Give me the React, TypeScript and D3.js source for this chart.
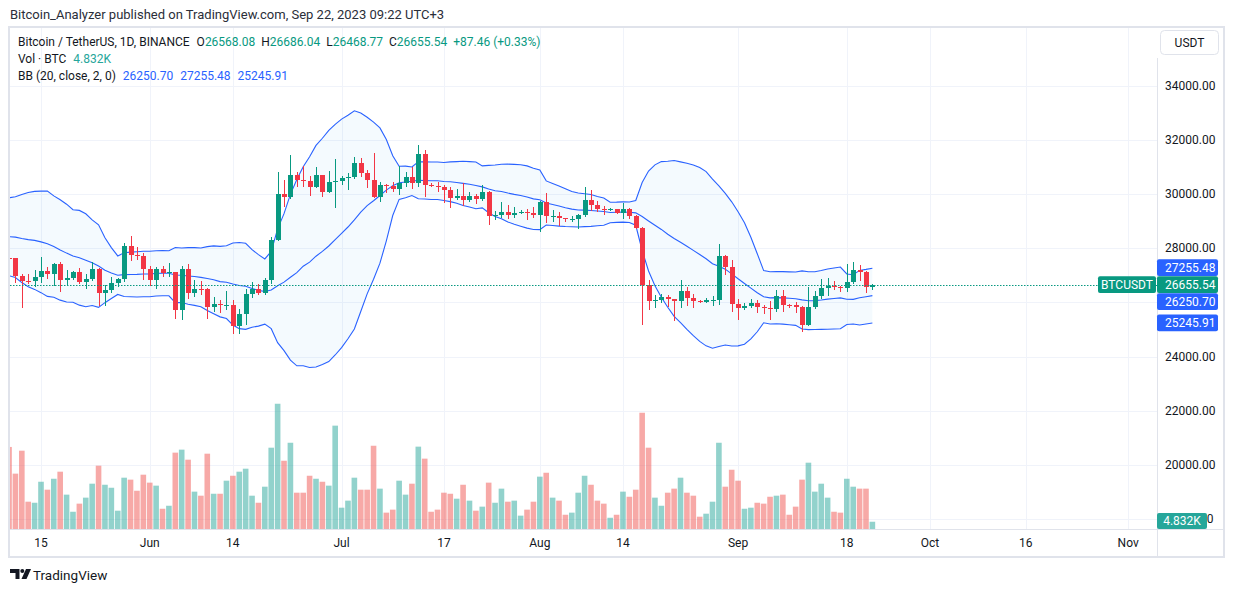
import React from "react";
import * as d3 from "d3";

// ---------- DATA (BTC/USDT, 1D, Binance) ----------
const START_DATE = "2023-05-10";

const opens = [
  27654, 27621, 26988, 26808, 26785, 26931, 27172, 27033, 27405, 26822, 26891, 27112, 26748, 26847, 27226, 26330, 26475, 26720, 26868, 28085, 27745, 27702,
  27219, 26819, 27249, 27069, 27116, 25728, 27230, 26339, 26498, 26477, 25841, 25925, 25901, 25902, 25127, 25575, 26327, 26511, 26337, 26845, 28308, 29994, 29885, 30688, 30528, 30462, 30267, 30693, 30078, 30446,
  30472, 30585, 30617, 31156, 30767, 30505, 29895, 30347, 30292, 30171, 30414, 30620, 30391, 31476, 30334, 30295, 30249, 30145, 29856, 29913, 29793, 29908, 29800, 30083, 29176, 29228, 29354, 29211, 29314, 29352, 29281,
  29232, 29705, 29186, 29193, 29114, 29072, 29088, 29211, 29770, 29582, 29452, 29430, 29434, 29303, 29430, 29200, 28730, 26624, 26050, 26100, 26189, 26125, 26056, 26432, 26163, 26048, 26009, 26090, 26106, 27728, 27299,
  25941, 25800, 25869, 25970, 25812, 25780, 25754, 26240, 25906, 25896, 25833, 25163, 25841, 26228, 26540, 26608, 26568, 26527, 26763, 27211, 27132, 26568.08,
];

const highs = [
  28322, 27636, 27055, 27030, 27200, 27665, 27299, 27465, 27485, 27183, 27155, 27279, 27058, 27495, 27260, 26631, 26932, 26895, 28200, 28448, 28048, 27834,
  27350, 27300, 27339, 27455, 27130, 27355, 27400, 26810, 26783, 26533, 26210, 26090, 26433, 26074, 25750, 26478, 26769, 26679, 26889, 28403, 30800, 30500, 31432, 30800, 31046, 30650, 31008, 30703, 30840, 31282,
  30661, 30792, 31381, 31326, 30878, 31500, 30449, 30385, 30445, 31045, 30800, 30983, 31814, 31630, 30390, 30440, 30336, 30244, 30188, 30417, 30056, 29990, 30350, 30099, 29376, 29690, 29580, 29530, 29415, 29449, 29530,
  29744, 30047, 29409, 29333, 29115, 29176, 29265, 30244, 30133, 29738, 29541, 29474, 29450, 29686, 29474, 29222, 28781, 26834, 26288, 26299, 26258, 26139, 26814, 26577, 26314, 26107, 26180, 26224, 28142, 27760, 27575,
  26125, 25977, 26125, 26100, 25915, 26046, 26470, 26445, 25948, 26000, 25876, 26564, 26417, 26860, 26888, 26777, 26620, 27409, 27488, 27378, 27160, 26686.04,
];

const lows = [
  26777, 26700, 25811, 26695, 26582, 26721, 26864, 26600, 26367, 26628, 26812, 26665, 26500, 26800, 25871, 25852, 26334, 26557, 26765, 27524, 27560, 26815,
  26605, 26508, 26923, 26951, 25388, 25333, 26121, 26207, 26269, 25400, 25634, 25602, 25712, 24840, 24830, 25160, 26180, 26290, 26256, 26668, 28257, 29525, 29811, 30251, 30270, 29934, 30236, 29895, 30033, 29500,
  30320, 30155, 30570, 30634, 30206, 29850, 29702, 30045, 30070, 29950, 30263, 30200, 30245, 29900, 30254, 30090, 29659, 29500, 29764, 29562, 29719, 29640, 29730, 28861, 29047, 29096, 29069, 29101, 29257, 29033, 29101,
  28585, 28942, 28959, 28806, 28953, 28985, 28701, 29145, 29355, 29320, 29238, 29355, 29250, 29070, 29063, 28701, 25166, 25728, 25800, 25971, 25812, 25300, 25798, 25864, 25777, 25964, 25985, 25860, 25922, 27025, 25655,
  25333, 25717, 25777, 25600, 25566, 25346, 25630, 25645, 25810, 25600, 24901, 25132, 25764, 26128, 26225, 26474, 26402, 26385, 26674, 26800, 26350, 26468.77,
];

const closes = [
  27621, 26988, 26808, 26785, 26931, 27172, 27033, 27405, 26822, 26891, 27112, 26748, 26847, 27226, 26330, 26475, 26720, 26868, 28085, 27745, 27702, 27219,
  26819, 27249, 27069, 27116, 25728, 27230, 26339, 26498, 26477, 25841, 25925, 25901, 25902, 25127, 25575, 26327, 26511, 26337, 26845, 28308, 29994, 29885, 30688, 30528, 30462, 30267, 30693, 30078, 30446, 30472,
  30585, 30617, 31156, 30767, 30505, 29895, 30347, 30292, 30171, 30414, 30620, 30391, 31476, 30334, 30295, 30249, 30145, 29856, 29913, 29793, 29908, 29800, 30083, 29176, 29228, 29354, 29211, 29314, 29352, 29281, 29232,
  29705, 29186, 29193, 29114, 29072, 29088, 29211, 29770, 29582, 29452, 29430, 29434, 29303, 29430, 29200, 28730, 26624, 26050, 26100, 26189, 26125, 26056, 26432, 26163, 26048, 26009, 26090, 26106, 27728, 27299, 25941,
  25800, 25869, 25970, 25812, 25780, 25754, 26240, 25906, 25896, 25833, 25163, 25841, 26228, 26540, 26608, 26568, 26527, 26763, 27211, 27132, 26568.08, 26655.54,
];

// Volume in thousands of BTC
const volumes = [
  54.7, 36.9, 52.2, 18.2, 17.5, 31.5, 26.2, 33.5, 38.2, 22.9, 11.5, 16.9, 20.9, 30.2, 42.2, 29.5, 27.5, 12.2, 34.2, 32.9, 25.5, 36.2,
  30.9, 28.9, 13.5, 15.5, 50.9, 52.9, 46.2, 24.9, 22.2, 50.2, 23.5, 23.5, 32.2, 35.5, 38.2, 40.2, 22.2, 17.5, 28.2, 54.2, 83.5, 45.5, 57.5, 24.2, 24.2, 35.5, 33.5, 31.5, 28.9, 68.9,
  14.2, 18.9, 34.2, 26.2, 26.2, 55.5, 26.9, 10.9, 12.9, 32.2, 22.9, 30.2, 54.9, 46.9, 11.5, 12.9, 24.2, 23.5, 20.2, 29.5, 18.9, 12.2, 14.9, 30.9, 17.5, 26.9, 18.2, 18.9, 8.9, 12.9, 18.2,
  34.9, 37.5, 20.9, 18.9, 9.5, 10.9, 24.2, 35.5, 29.5, 18.9, 16.9, 7.5, 9.5, 24.9, 21.5, 26.2, 77.5, 54.2, 20.9, 15.5, 24.2, 26.9, 34.2, 24.2, 22.2, 8.2, 10.2, 18.2, 57.5, 28.2, 39.5,
  32.2, 13.5, 14.2, 17.5, 16.9, 21.5, 22.2, 22.9, 9.5, 14.9, 32.9, 44.2, 24.9, 30.2, 20.9, 11.5, 10.9, 33.5, 28.2, 26.9, 26.9, 4.832,
];

// closes of the 19 days before the first visible candle (Bollinger warm-up)
const priorCloses = [
  27262, 27818, 27591, 27515, 28300, 28415, 29472, 29311, 29230, 29233, 28068, 28669, 29026, 28838, 29506, 28848, 28430, 27668, 27628,
];

const priceTicks = [34000, 32000, 30000, 28000, 26000, 24000, 22000, 20000, 18000];
const timeTickDates = [
  "2023-05-15", "2023-06-01", "2023-06-14", "2023-07-01", "2023-07-17", "2023-08-01",
  "2023-08-14", "2023-09-01", "2023-09-18", "2023-10-01", "2023-10-16", "2023-11-01",
];
const timeTickLabels = ["15", "Jun", "14", "Jul", "17", "Aug", "14", "Sep", "18", "Oct", "16", "Nov"];

const headerText = "Bitcoin_Analyzer published on TradingView.com, Sep 22, 2023 09:22 UTC+3";
const symbolText = "Bitcoin / TetherUS, 1D, BINANCE";
const ohlcLabels = ["O", "H", "L", "C"];
const ohlcValues = ["26568.08", "26686.04", "26468.77", "26655.54"];
const changeText = "+87.46 (+0.33%)";
const volText = "Vol · BTC";
const volValueText = "4.832K";
const bbText = "BB (20, close, 2, 0)";
const bbValues = [26250.7, 27255.48, 25245.91]; // basis, upper, lower

// ---------- LAYOUT / STYLE ----------
const W = 1233;
const H = 592;
const PL = 10;
const PR = 1157;
const PT = 28;
const PB = 529;
const UP = "#089981";
const DOWN = "#F23645";
const VOL_UP = "rgba(38,166,154,0.5)";
const VOL_DOWN = "rgba(239,83,80,0.5)";
const BB = "#2962FF";
const TXT = "#131722";
const GRID = "#f0f3fa";
const BORDER = "#e0e3eb";
const FONT = "'Trebuchet MS', Roboto, 'Noto Sans', sans-serif";

export default function App() {
  const DAY = 86400000;
  const t0 = Date.parse(START_DATE + "T00:00:00Z");
  const data = closes.map((c, i) => ({
    date: new Date(t0 + i * DAY),
    o: opens[i],
    h: highs[i],
    l: lows[i],
    c,
    v: volumes[i],
  }));

  const x = d3
    .scaleUtc()
    .domain([new Date("2023-05-15T00:00:00Z"), new Date("2023-09-18T00:00:00Z")])
    .range([41, 846.8]);
  const y = d3.scaleLinear().domain([18000, 34000]).range([519.2, 85.6]);
  const yVol = d3.scaleLinear().domain([0, 100]).range([PB, PB - 150]);

  const all = priorCloses.concat(closes);
  const bb = data.map((d, i) => {
    const w = all.slice(i, i + 20);
    const m = d3.mean(w) as number;
    const sd = Math.sqrt(d3.mean(w, (v) => (v - m) * (v - m)) as number);
    return { date: d.date, mid: m, up: m + 2 * sd, lo: m - 2 * sd };
  });

  const area = d3
    .area<any>()
    .x((d) => x(d.date))
    .y0((d) => y(d.lo))
    .y1((d) => y(d.up));
  const lineOf = (k: "mid" | "up" | "lo") =>
    d3
      .line<any>()
      .x((d) => x(d.date))
      .y((d) => y(d[k]))(bb) as string;

  const fmt = d3.format(".2f");
  const last = data[data.length - 1];
  const mainY = y(last.c);
  const LH = 17;
  const labels = [
    { v: bbValues[1], y: y(bbValues[1]) },
    { v: bbValues[0], y: y(bbValues[0]) },
    { v: bbValues[2], y: y(bbValues[2]) },
  ];
  const above = labels.filter((l) => l.y <= mainY).sort((a, b) => b.y - a.y);
  let prev = mainY;
  above.forEach((l) => {
    l.y = Math.min(l.y, prev - LH);
    prev = l.y;
  });
  const below = labels.filter((l) => l.y > mainY).sort((a, b) => a.y - b.y);
  prev = mainY;
  below.forEach((l) => {
    l.y = Math.max(l.y, prev + LH);
    prev = l.y;
  });

  const boxYs = [mainY, ...labels.map((l) => l.y)];
  const VOL_BOX_Y = 521;

  return (
    <svg
      width={W}
      height={H}
      viewBox={`0 0 ${W} ${H}`}
      style={{ position: "absolute", left: 0, top: 0, display: "block", background: "#fff" }}
      fontFamily={FONT}
    >
      <defs>
        <clipPath id="plotClip">
          <rect x={PL} y={PT} width={PR - PL} height={PB - PT} />
        </clipPath>
      </defs>
      <rect x={0} y={0} width={W} height={H} fill="#fff" />

      {/* header */}
      <text x={10} y={14} fontSize={13} fill="#2a2e39" dominantBaseline="central">
        {headerText}
      </text>

      {/* frame */}
      <rect x={9} y={27} width={1215} height={530} fill="#fff" stroke={BORDER} strokeWidth={2} />

      {/* grid */}
      <g>
        {priceTicks.map((p) => (
          <line key={p} x1={PL} x2={PR} y1={Math.round(y(p)) + 0.5} y2={Math.round(y(p)) + 0.5} stroke={GRID} />
        ))}
        {timeTickDates.map((t) => {
          const xx = Math.round(x(new Date(t + "T00:00:00Z"))) + 0.5;
          return <line key={t} x1={xx} x2={xx} y1={PT} y2={PB} stroke={GRID} />;
        })}
      </g>

      <g clipPath="url(#plotClip)">
        {/* volume */}
        {data.map((d, i) => {
          const cx = x(d.date);
          return (
            <rect
              key={"v" + i}
              x={cx - 2.8}
              width={5.6}
              y={yVol(d.v)}
              height={PB - yVol(d.v)}
              fill={d.c >= d.o ? VOL_UP : VOL_DOWN}
            />
          );
        })}

        {/* bollinger */}
        <path d={area(bb) as string} fill="rgba(33,150,243,0.05)" />
        <path d={lineOf("up")} fill="none" stroke={BB} strokeWidth={1.1} />
        <path d={lineOf("mid")} fill="none" stroke={BB} strokeWidth={1.1} />
        <path d={lineOf("lo")} fill="none" stroke={BB} strokeWidth={1.1} />

        {/* candles */}
        {data.map((d, i) => {
          const cx = Math.round(x(d.date));
          const col = d.c >= d.o ? UP : DOWN;
          const top = Math.round(y(Math.max(d.o, d.c)));
          const bot = Math.round(y(Math.min(d.o, d.c)));
          return (
            <g key={"c" + i}>
              <rect x={cx} y={Math.round(y(d.h))} width={1} height={Math.max(1, Math.round(y(d.l)) - Math.round(y(d.h)))} fill={col} />
              <rect x={cx - 2} y={top} width={5} height={Math.max(1, bot - top)} fill={col} />
            </g>
          );
        })}

        {/* last price line */}
        <line x1={PL} x2={PR} y1={Math.round(mainY) + 0.5} y2={Math.round(mainY) + 0.5} stroke={UP} strokeDasharray="1.5,1.5" />
      </g>

      {/* axes borders */}
      <line x1={PR + 0.5} x2={PR + 0.5} y1={58} y2={556} stroke={BORDER} />
      <line x1={PL} x2={1223} y1={PB + 0.5} y2={PB + 0.5} stroke={BORDER} />

      {/* price axis labels (hidden where a value tag covers them; only the
          uncovered tail shows beside the volume tag) */}
      {priceTicks.map((p) => {
        const py = y(p);
        if (boxYs.some((b) => Math.abs(b - py) < 12)) return null;
        const label = fmt(p);
        if (Math.abs(py - VOL_BOX_Y) < 10) {
          return (
            <text key={"pt" + p} x={1213.5} y={py} fontSize={12} fill={TXT} textAnchor="end" dominantBaseline="central">
              {label.slice(-1)}
            </text>
          );
        }
        return (
          <text key={"pt" + p} x={1165} y={py} fontSize={12} fill={TXT} dominantBaseline="central">
            {label}
          </text>
        );
      })}

      {/* time axis labels */}
      {timeTickDates.map((t, i) => (
        <text
          key={"tt" + t}
          x={x(new Date(t + "T00:00:00Z"))}
          y={543}
          fontSize={12}
          fill={TXT}
          textAnchor="middle"
          dominantBaseline="central"
        >
          {timeTickLabels[i]}
        </text>
      ))}

      {/* USDT button */}
      <rect x={1160.5} y={30.5} width={58} height={24} rx={4} fill="#fff" stroke={BORDER} />
      <text x={1189.5} y={43} fontSize={12} fill={TXT} textAnchor="middle" dominantBaseline="central">
        USDT
      </text>

      {/* BB labels */}
      {labels.map((l, i) => (
        <g key={"bl" + i}>
          <rect x={1157} y={l.y - 8.3} width={61} height={16.6} rx={2} fill={BB} />
          <text x={1165} y={l.y} fontSize={12} fill="#fff" dominantBaseline="central">
            {fmt(l.v)}
          </text>
        </g>
      ))}

      {/* last price label */}
      <rect x={1157} y={mainY - 8.3} width={61} height={16.6} rx={2} fill={UP} />
      <text x={1165} y={mainY} fontSize={12} fill="#fff" dominantBaseline="central">
        {fmt(last.c)}
      </text>
      <rect x={1098} y={mainY - 8.3} width={58} height={16.6} rx={2} fill={UP} />
      <text x={1127} y={mainY} fontSize={12} fill="#fff" textAnchor="middle" dominantBaseline="central">
        BTCUSDT
      </text>

      {/* volume label */}
      <rect x={1157} y={VOL_BOX_Y - 8} width={50} height={16} rx={2} fill="#26a69a" />
      <text x={1182} y={VOL_BOX_Y} fontSize={12} fill="#fff" textAnchor="middle" dominantBaseline="central">
        {volValueText}
      </text>

      {/* legend */}
      <text x={18} y={42} fontSize={12} fill={TXT} dominantBaseline="central">
        <tspan>{symbolText}</tspan>
        {ohlcLabels.map((k, i) => (
          <React.Fragment key={k}>
            <tspan dx={i === 0 ? 7 : 6} fill={TXT}>{k}</tspan>
            <tspan fill={UP}>{ohlcValues[i]}</tspan>
          </React.Fragment>
        ))}
        <tspan dx={6} fill={UP}>{changeText}</tspan>
      </text>
      <text x={18} y={59} fontSize={12} fill={TXT} dominantBaseline="central">
        <tspan>{volText}</tspan>
        <tspan dx={7} fill="#26a69a">{volValueText}</tspan>
      </text>
      <text x={18} y={76} fontSize={12} fill={TXT} dominantBaseline="central">
        <tspan>{bbText}</tspan>
        {[bbValues[0], bbValues[1], bbValues[2]].map((v, i) => (
          <tspan key={i} dx={7} fill={BB}>{fmt(v)}</tspan>
        ))}
      </text>

      {/* TradingView logo */}
      <g fill={TXT}>
        <path d="M10,569 H19.5 V579 H15.5 V573 H10 Z" />
        <circle cx={22.3} cy={571} r={2} />
        <path d="M26,569 H31 L26.5,579 H21.5 Z" />
      </g>
      <text x={33} y={575} fontSize={13.5} fill={TXT} dominantBaseline="central">
        TradingView
      </text>
    </svg>
  );
}
